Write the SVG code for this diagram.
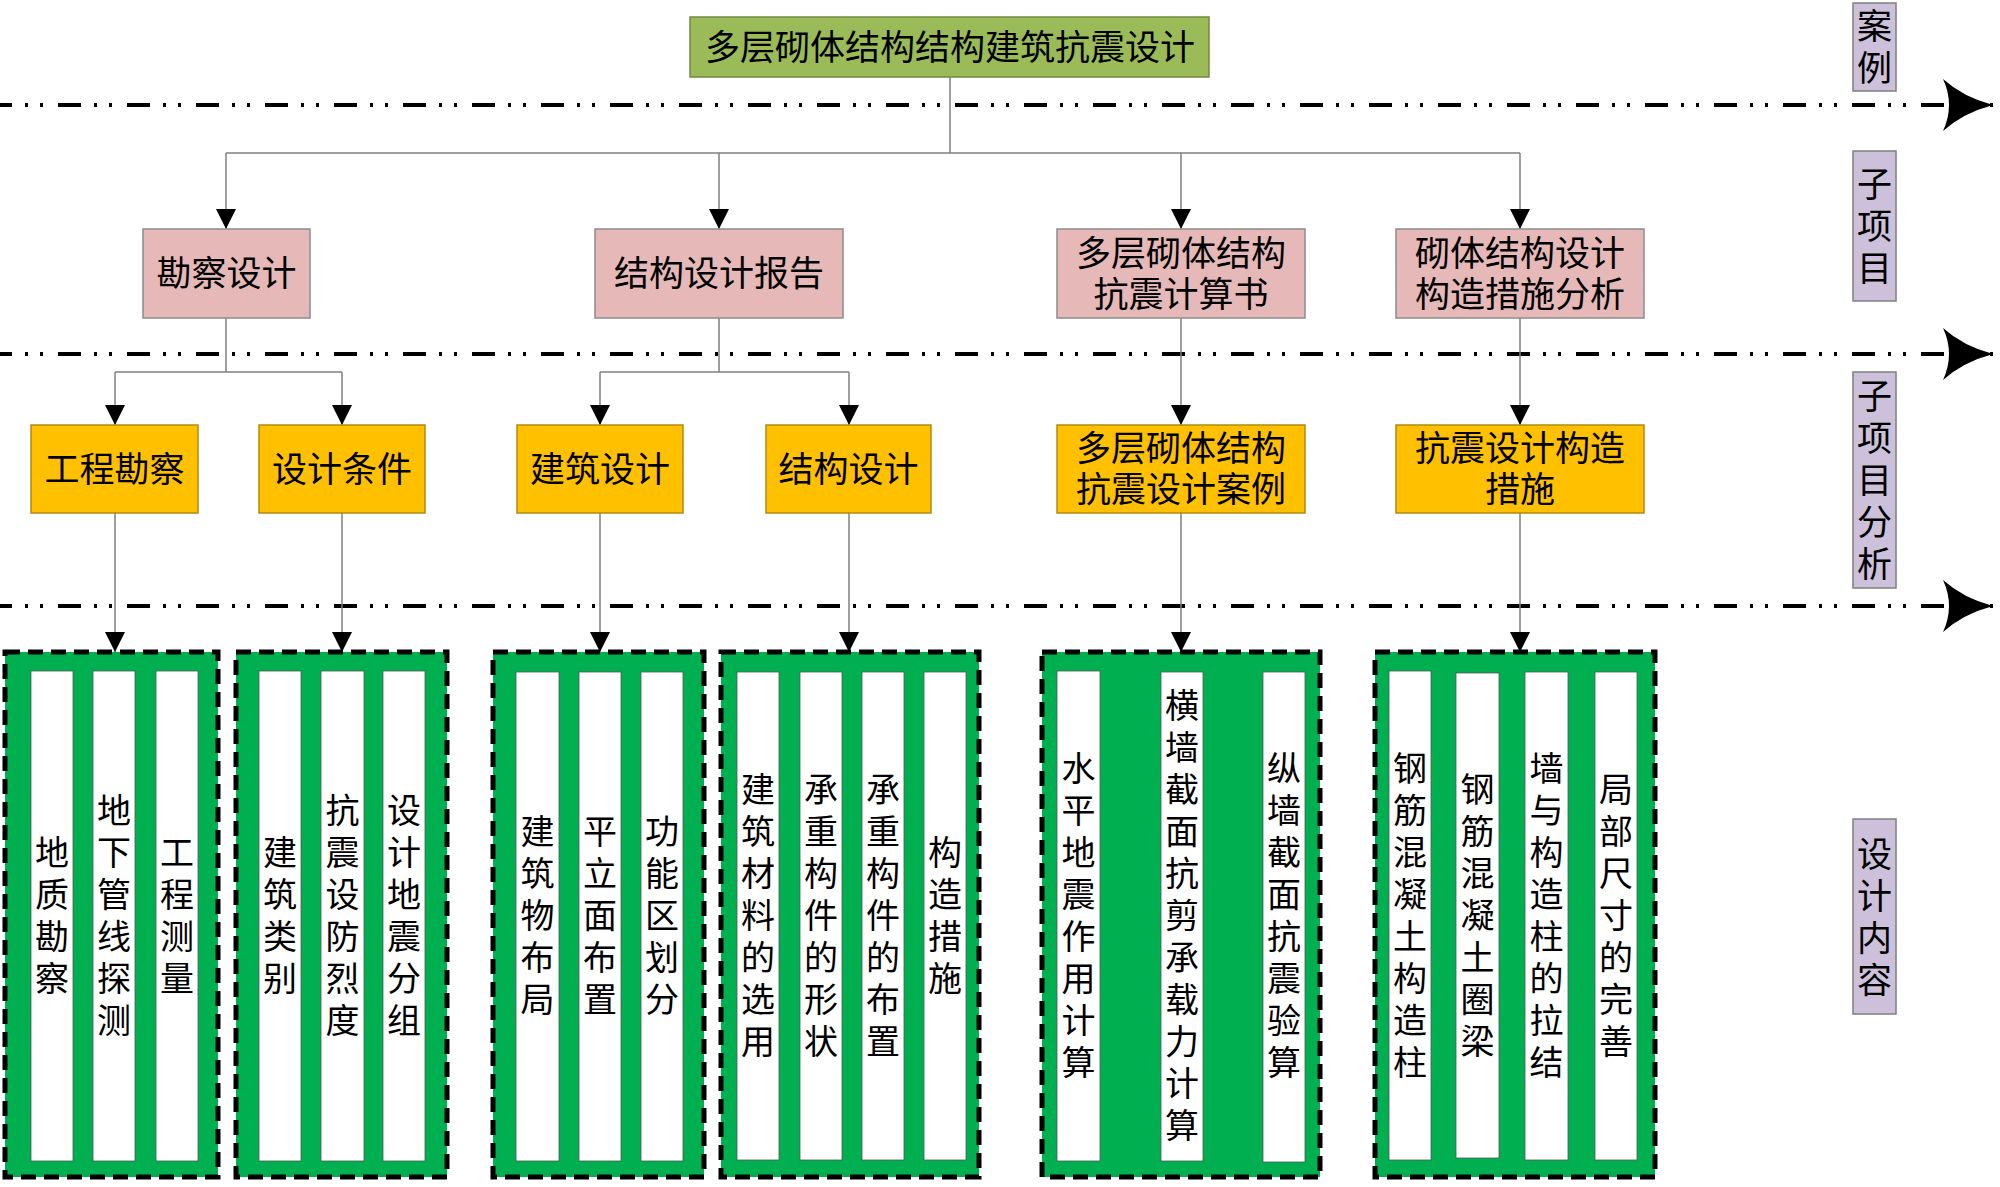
<svg xmlns="http://www.w3.org/2000/svg" width="2000" height="1187" viewBox="0 0 2000 1187">
<style>
text{font-family:"Liberation Sans","Noto Sans CJK SC","Noto Sans CJK TC",sans-serif;fill:#000;text-anchor:middle;dominant-baseline:central}
.t35{font-size:35px}
.t34{font-size:34px}
.top{fill:#9BBB59;stroke:#71893F;stroke-width:1.5}
.pink{fill:#E6B9B8;stroke:#8C8C8C;stroke-width:1.5}
.yel{fill:#FFC000;stroke:#B08A10;stroke-width:1.5}
.lab{fill:#CCC0DA;stroke:#7F7F7F;stroke-width:1.5}
.grp{fill:#00B050;stroke:#000;stroke-width:5;stroke-dasharray:15 8}
.col{fill:#fff;stroke:#555;stroke-width:0.8}
.con{fill:none;stroke:#808080;stroke-width:1.5}
.arr{fill:none;stroke:#808080;stroke-width:1.5;marker-end:url(#ah)}
.div{fill:none;stroke:#000;stroke-width:4;stroke-dasharray:23 13 3 12 3 15;stroke-dashoffset:11;marker-end:url(#big)}
</style>
<defs>
<marker id="ah" markerUnits="userSpaceOnUse" markerWidth="20" markerHeight="20" refX="20" refY="10" orient="auto">
<path d="M0,0 L20,10 L0,20 Z" fill="#000"/>
</marker>
<marker id="big" markerUnits="userSpaceOnUse" markerWidth="54" markerHeight="56" refX="52" refY="28" orient="auto">
<path d="M52,28 Q22,20 2,2 Q14,28 2,54 Q22,36 52,28 Z" fill="#000"/>
</marker>
</defs>

<g id="dividers">
<line class="div" x1="0" y1="105" x2="1993" y2="105"/>
<line class="div" x1="0" y1="354" x2="1993" y2="354"/>
<line class="div" x1="0" y1="606" x2="1993" y2="606"/>
</g>

<g id="connectors">
<path class="con" d="M950,77 V153 M226,153 H1520"/>
<path class="arr" d="M226,153 V229"/>
<path class="arr" d="M719,153 V229"/>
<path class="arr" d="M1181,153 V229"/>
<path class="arr" d="M1520,153 V229"/>
<path class="con" d="M226,318 V372 M115,372 H342 M719,318 V372 M600,372 H849"/>
<path class="arr" d="M115,372 V425"/>
<path class="arr" d="M342,372 V425"/>
<path class="arr" d="M600,372 V425"/>
<path class="arr" d="M849,372 V425"/>
<path class="arr" d="M1181,318 V425"/>
<path class="arr" d="M1520,318 V425"/>
<path class="arr" d="M115,513 V652"/>
<path class="arr" d="M342,513 V652"/>
<path class="arr" d="M600,513 V652"/>
<path class="arr" d="M849,513 V652"/>
<path class="arr" d="M1181,513 V652"/>
<path class="arr" d="M1520,513 V652"/>
</g>

<g id="n-top"><rect class="top" x="690" y="17" width="519" height="60"/><text class="t35" x="950" y="47">多层砌体结构结构建筑抗震设计</text></g>

<g id="n-kcsj"><rect class="pink" x="143" y="229" width="167" height="89"/><text class="t35" x="226.5" y="273.5">勘察设计</text></g>
<g id="n-jgsjbg"><rect class="pink" x="595" y="229" width="248" height="89"/><text class="t35" x="719" y="273.5">结构设计报告</text></g>
<g id="n-jss"><rect class="pink" x="1057" y="229" width="248" height="89"/><text class="t35" x="1181" y="253">多层砌体结构</text><text class="t35" x="1181" y="294">抗震计算书</text></g>
<g id="n-gzcsfx"><rect class="pink" x="1396" y="229" width="248" height="89"/><text class="t35" x="1520" y="253">砌体结构设计</text><text class="t35" x="1520" y="294">构造措施分析</text></g>

<g id="n-gckc"><rect class="yel" x="31" y="425" width="167" height="88"/><text class="t35" x="114.5" y="469">工程勘察</text></g>
<g id="n-sjtj"><rect class="yel" x="259" y="425" width="166" height="88"/><text class="t35" x="342" y="469">设计条件</text></g>
<g id="n-jzsj"><rect class="yel" x="517" y="425" width="166" height="88"/><text class="t35" x="600" y="469">建筑设计</text></g>
<g id="n-jgsj"><rect class="yel" x="766" y="425" width="165" height="88"/><text class="t35" x="848.5" y="469">结构设计</text></g>
<g id="n-sjal"><rect class="yel" x="1057" y="425" width="248" height="88"/><text class="t35" x="1181" y="448.5">多层砌体结构</text><text class="t35" x="1181" y="489.5">抗震设计案例</text></g>
<g id="n-gzcs"><rect class="yel" x="1396" y="425" width="248" height="88"/><text class="t35" x="1520" y="448.5">抗震设计构造</text><text class="t35" x="1520" y="489.5">措施</text></g>

<g id="g-kc">
<rect class="grp" x="5" y="652" width="213" height="525"/>
<rect class="col" x="31" y="671" width="42" height="490"/>
<rect class="col" x="93" y="671" width="42" height="490"/>
<rect class="col" x="156" y="671" width="42" height="490"/>
<text class="t34"><tspan x="52" y="853">地</tspan><tspan x="52" y="895">质</tspan><tspan x="52" y="937">勘</tspan><tspan x="52" y="979">察</tspan></text>
<text class="t34"><tspan x="114" y="811">地</tspan><tspan x="114" y="853">下</tspan><tspan x="114" y="895">管</tspan><tspan x="114" y="937">线</tspan><tspan x="114" y="979">探</tspan><tspan x="114" y="1021">测</tspan></text>
<text class="t34"><tspan x="177" y="853">工</tspan><tspan x="177" y="895">程</tspan><tspan x="177" y="937">测</tspan><tspan x="177" y="979">量</tspan></text>
</g>

<g id="g-tj">
<rect class="grp" x="236" y="652" width="211" height="525"/>
<rect class="col" x="259" y="671" width="42" height="490"/>
<rect class="col" x="321" y="671" width="43" height="490"/>
<rect class="col" x="383" y="671" width="42" height="490"/>
<text class="t34"><tspan x="280" y="853">建</tspan><tspan x="280" y="895">筑</tspan><tspan x="280" y="937">类</tspan><tspan x="280" y="979">别</tspan></text>
<text class="t34"><tspan x="342.5" y="811">抗</tspan><tspan x="342.5" y="853">震</tspan><tspan x="342.5" y="895">设</tspan><tspan x="342.5" y="937">防</tspan><tspan x="342.5" y="979">烈</tspan><tspan x="342.5" y="1021">度</tspan></text>
<text class="t34"><tspan x="404" y="811">设</tspan><tspan x="404" y="853">计</tspan><tspan x="404" y="895">地</tspan><tspan x="404" y="937">震</tspan><tspan x="404" y="979">分</tspan><tspan x="404" y="1021">组</tspan></text>
</g>

<g id="g-jz">
<rect class="grp" x="493" y="652" width="211" height="525"/>
<rect class="col" x="516" y="672" width="43" height="489"/>
<rect class="col" x="579" y="672" width="42" height="489"/>
<rect class="col" x="641" y="672" width="42" height="489"/>
<text class="t34"><tspan x="537.5" y="832">建</tspan><tspan x="537.5" y="874">筑</tspan><tspan x="537.5" y="916">物</tspan><tspan x="537.5" y="958">布</tspan><tspan x="537.5" y="1000">局</tspan></text>
<text class="t34"><tspan x="600" y="832">平</tspan><tspan x="600" y="874">立</tspan><tspan x="600" y="916">面</tspan><tspan x="600" y="958">布</tspan><tspan x="600" y="1000">置</tspan></text>
<text class="t34"><tspan x="662" y="832">功</tspan><tspan x="662" y="874">能</tspan><tspan x="662" y="916">区</tspan><tspan x="662" y="958">划</tspan><tspan x="662" y="1000">分</tspan></text>
</g>

<g id="g-jg">
<rect class="grp" x="721" y="652" width="258" height="525"/>
<rect class="col" x="737" y="672" width="42" height="488"/>
<rect class="col" x="800" y="672" width="42" height="488"/>
<rect class="col" x="862" y="672" width="42" height="488"/>
<rect class="col" x="924" y="672" width="42" height="488"/>
<text class="t34"><tspan x="758" y="790">建</tspan><tspan x="758" y="832">筑</tspan><tspan x="758" y="874">材</tspan><tspan x="758" y="916">料</tspan><tspan x="758" y="958">的</tspan><tspan x="758" y="1000">选</tspan><tspan x="758" y="1042">用</tspan></text>
<text class="t34"><tspan x="821" y="790">承</tspan><tspan x="821" y="832">重</tspan><tspan x="821" y="874">构</tspan><tspan x="821" y="916">件</tspan><tspan x="821" y="958">的</tspan><tspan x="821" y="1000">形</tspan><tspan x="821" y="1042">状</tspan></text>
<text class="t34"><tspan x="883" y="790">承</tspan><tspan x="883" y="832">重</tspan><tspan x="883" y="874">构</tspan><tspan x="883" y="916">件</tspan><tspan x="883" y="958">的</tspan><tspan x="883" y="1000">布</tspan><tspan x="883" y="1042">置</tspan></text>
<text class="t34"><tspan x="945" y="853">构</tspan><tspan x="945" y="895">造</tspan><tspan x="945" y="937">措</tspan><tspan x="945" y="979">施</tspan></text>
</g>

<g id="g-js">
<rect class="grp" x="1042" y="652" width="278" height="525"/>
<rect class="col" x="1057" y="671" width="43" height="490"/>
<rect class="col" x="1161" y="672" width="42" height="489"/>
<rect class="col" x="1263" y="672" width="42" height="490"/>
<text class="t34"><tspan x="1078.5" y="769">水</tspan><tspan x="1078.5" y="811">平</tspan><tspan x="1078.5" y="853">地</tspan><tspan x="1078.5" y="895">震</tspan><tspan x="1078.5" y="937">作</tspan><tspan x="1078.5" y="979">用</tspan><tspan x="1078.5" y="1021">计</tspan><tspan x="1078.5" y="1063">算</tspan></text>
<text class="t34"><tspan x="1182" y="706">横</tspan><tspan x="1182" y="748">墙</tspan><tspan x="1182" y="790">截</tspan><tspan x="1182" y="832">面</tspan><tspan x="1182" y="874">抗</tspan><tspan x="1182" y="916">剪</tspan><tspan x="1182" y="958">承</tspan><tspan x="1182" y="1000">载</tspan><tspan x="1182" y="1042">力</tspan><tspan x="1182" y="1084">计</tspan><tspan x="1182" y="1126">算</tspan></text>
<text class="t34"><tspan x="1284" y="769">纵</tspan><tspan x="1284" y="811">墙</tspan><tspan x="1284" y="853">截</tspan><tspan x="1284" y="895">面</tspan><tspan x="1284" y="937">抗</tspan><tspan x="1284" y="979">震</tspan><tspan x="1284" y="1021">验</tspan><tspan x="1284" y="1063">算</tspan></text>
</g>

<g id="g-gz">
<rect class="grp" x="1375" y="652" width="280" height="525"/>
<rect class="col" x="1389" y="671" width="42" height="489"/>
<rect class="col" x="1456" y="673" width="43" height="485"/>
<rect class="col" x="1525" y="672" width="43" height="488"/>
<rect class="col" x="1595" y="672" width="42" height="488"/>
<text class="t34"><tspan x="1410" y="769">钢</tspan><tspan x="1410" y="811">筋</tspan><tspan x="1410" y="853">混</tspan><tspan x="1410" y="895">凝</tspan><tspan x="1410" y="937">土</tspan><tspan x="1410" y="979">构</tspan><tspan x="1410" y="1021">造</tspan><tspan x="1410" y="1063">柱</tspan></text>
<text class="t34"><tspan x="1477.5" y="790">钢</tspan><tspan x="1477.5" y="832">筋</tspan><tspan x="1477.5" y="874">混</tspan><tspan x="1477.5" y="916">凝</tspan><tspan x="1477.5" y="958">土</tspan><tspan x="1477.5" y="1000">圈</tspan><tspan x="1477.5" y="1042">梁</tspan></text>
<text class="t34"><tspan x="1546.5" y="769">墙</tspan><tspan x="1546.5" y="811">与</tspan><tspan x="1546.5" y="853">构</tspan><tspan x="1546.5" y="895">造</tspan><tspan x="1546.5" y="937">柱</tspan><tspan x="1546.5" y="979">的</tspan><tspan x="1546.5" y="1021">拉</tspan><tspan x="1546.5" y="1063">结</tspan></text>
<text class="t34"><tspan x="1616" y="790">局</tspan><tspan x="1616" y="832">部</tspan><tspan x="1616" y="874">尺</tspan><tspan x="1616" y="916">寸</tspan><tspan x="1616" y="958">的</tspan><tspan x="1616" y="1000">完</tspan><tspan x="1616" y="1042">善</tspan></text>
</g>

<g id="lab-al"><rect class="lab" x="1853" y="3" width="43" height="88"/><text class="t35"><tspan x="1874.5" y="26">案</tspan><tspan x="1874.5" y="68">例</tspan></text></g>
<g id="lab-zxm"><rect class="lab" x="1853" y="151" width="43" height="150"/><text class="t35"><tspan x="1874.5" y="184">子</tspan><tspan x="1874.5" y="226">项</tspan><tspan x="1874.5" y="268">目</tspan></text></g>
<g id="lab-zxmfx"><rect class="lab" x="1853" y="372" width="43" height="216"/><text class="t35"><tspan x="1874.5" y="396">子</tspan><tspan x="1874.5" y="438">项</tspan><tspan x="1874.5" y="480">目</tspan><tspan x="1874.5" y="522">分</tspan><tspan x="1874.5" y="564">析</tspan></text></g>
<g id="lab-sjnr"><rect class="lab" x="1853" y="819" width="43" height="195"/><text class="t35"><tspan x="1874.5" y="853.5">设</tspan><tspan x="1874.5" y="895.5">计</tspan><tspan x="1874.5" y="937.5">内</tspan><tspan x="1874.5" y="979.5">容</tspan></text></g>
</svg>
